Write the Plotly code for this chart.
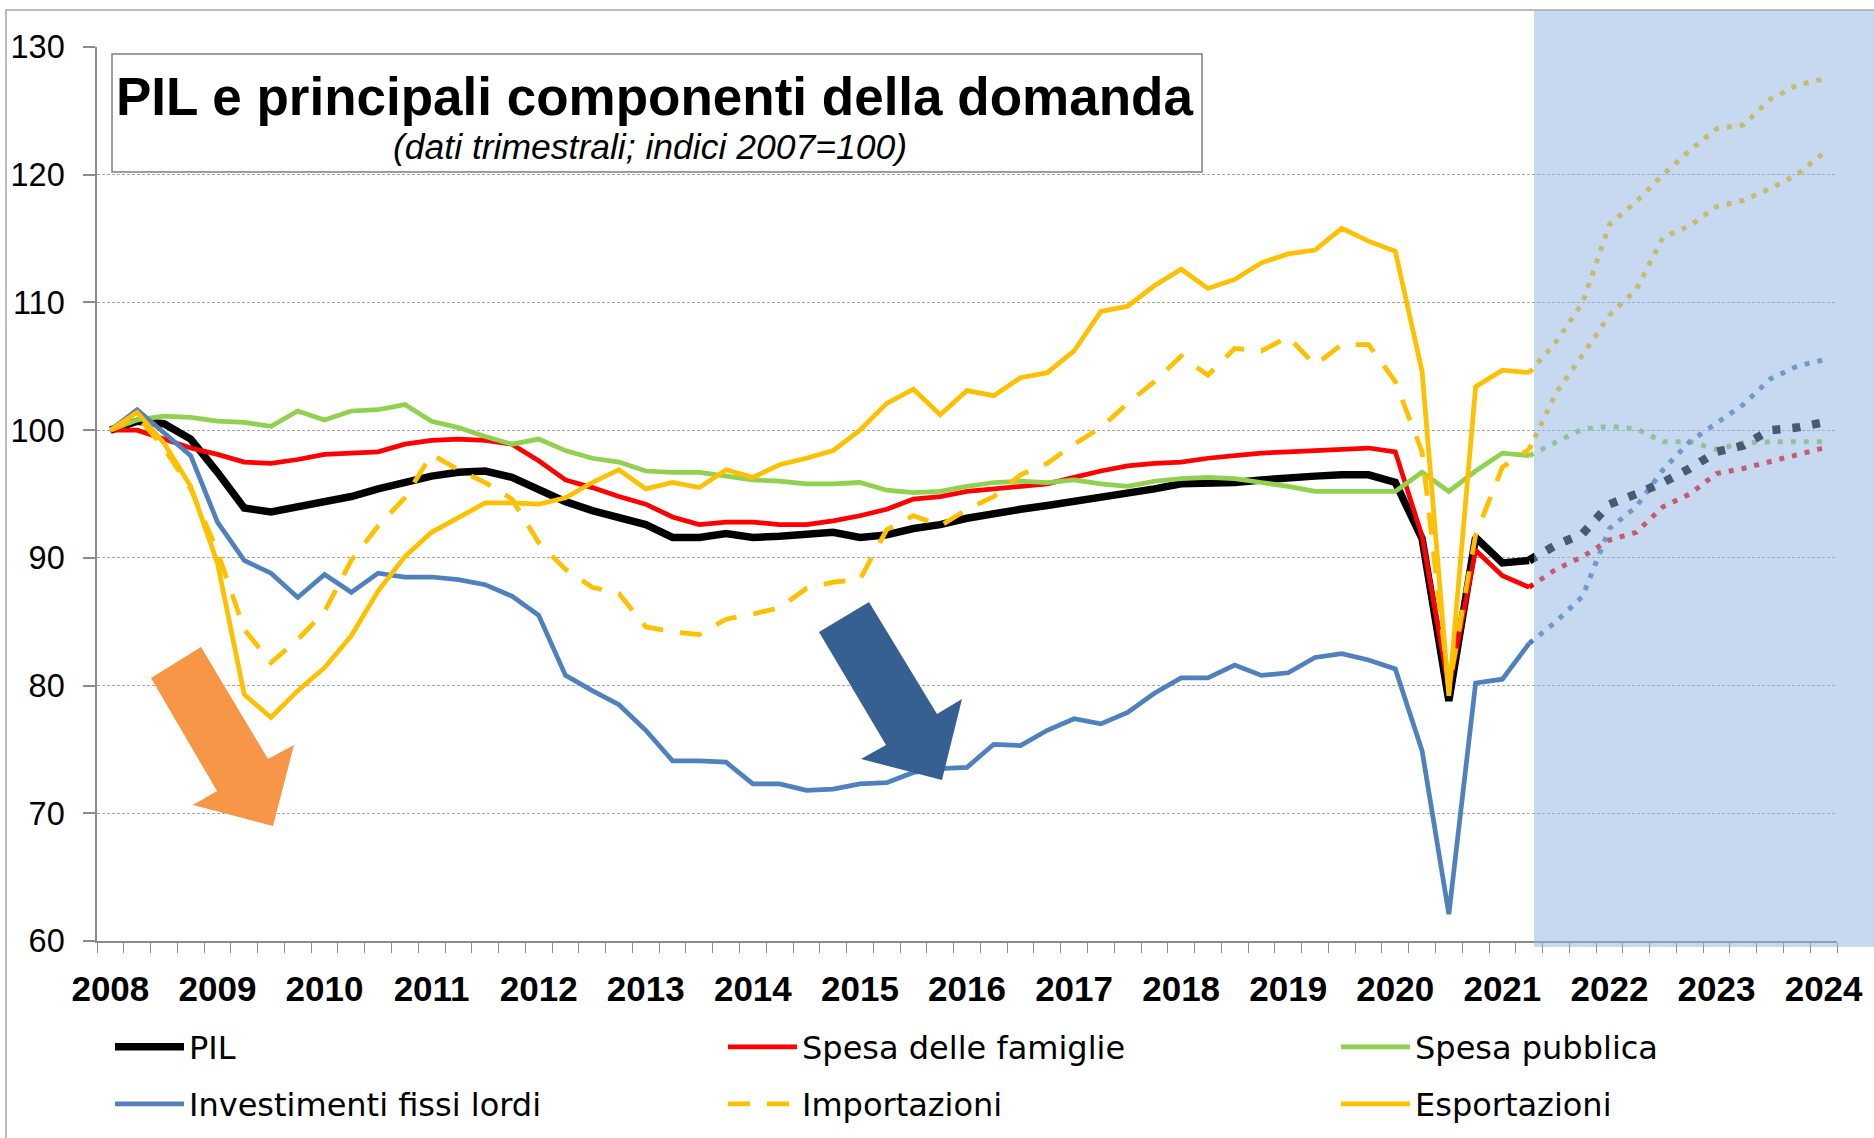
import plotly.graph_objects as go

# ---------------- data (quarterly, index 2007=100) ----------------
years = [str(y) for y in range(2008, 2025)]          # tick labels (one per year, Q1)
quarters_actual = list(range(0, 54))                  # 2008Q1 .. 2021Q2
quarters_fcst = list(range(53, 65))                   # 2021Q2 .. 2024Q1

pil = [100.0, 100.7, 100.5, 99.3, 96.7, 93.9, 93.6, 94.0, 94.4, 94.8, 95.4, 95.9, 96.4, 96.7,
       96.8, 96.3, 95.4, 94.4, 93.7, 93.2, 92.6, 91.6, 91.6, 91.9, 91.6, 91.7, 91.8, 92.0,
       91.6, 91.8, 92.3, 92.6, 93.1, 93.5, 93.8, 94.1, 94.4, 94.8, 95.1, 95.4, 95.8, 95.8,
       95.9, 96.1, 96.3, 96.4, 96.5, 96.5, 95.9, 91.5, 78.8, 91.6, 89.6, 89.8]
famiglie = [100.0, 100.0, 99.3, 98.6, 98.1, 97.5, 97.4, 97.7, 98.1, 98.2, 98.3, 98.9, 99.2, 99.3,
            99.2, 98.9, 97.6, 96.1, 95.5, 94.8, 94.2, 93.2, 92.6, 92.8, 92.8, 92.6, 92.6, 92.9,
            93.3, 93.8, 94.6, 94.8, 95.2, 95.4, 95.6, 95.8, 96.3, 96.8, 97.2, 97.4, 97.5, 97.8,
            98.0, 98.2, 98.3, 98.4, 98.5, 98.6, 98.3, 91.7, 79.8, 90.6, 88.6, 87.7]
pubblica = [100.0, 100.8, 101.1, 101.0, 100.7, 100.6, 100.3, 101.5, 100.8, 101.5, 101.6, 102.0,
            100.7, 100.2, 99.5, 98.9, 99.3, 98.4, 97.8, 97.5, 96.8, 96.7, 96.7, 96.4, 96.1, 96.0,
            95.8, 95.8, 95.9, 95.3, 95.1, 95.2, 95.6, 95.9, 96.0, 95.9, 96.1, 95.8, 95.6, 96.0,
            96.2, 96.3, 96.2, 95.9, 95.6, 95.2, 95.2, 95.2, 95.2, 96.7, 95.2, 96.8, 98.2, 98.0]
investimenti = [100.0, 101.6, 99.8, 98.0, 92.8, 89.8, 88.8, 86.9, 88.7, 87.3, 88.8, 88.5, 88.5,
                88.3, 87.9, 87.0, 85.5, 80.8, 79.6, 78.5, 76.5, 74.1, 74.1, 74.0, 72.3, 72.3, 71.8,
                71.9, 72.3, 72.4, 73.2, 73.5, 73.6, 75.4, 75.3, 76.5, 77.4, 77.0, 77.9, 79.4, 80.6,
                80.6, 81.6, 80.8, 81.0, 82.2, 82.5, 82.0, 81.3, 74.9, 62.1, 80.2, 80.5, 83.3]
importazioni = [100.0, 101.1, 98.6, 95.4, 90.5, 84.4, 81.8, 83.6, 85.8, 89.8, 92.5, 94.7, 98.1,
                96.9, 95.9, 94.6, 91.2, 89.1, 87.7, 87.2, 84.6, 84.2, 84.0, 85.2, 85.6, 86.1, 87.6,
                88.1, 88.3, 92.2, 93.3, 92.5, 93.8, 94.8, 96.5, 97.4, 98.9, 100.2, 102.1, 103.8,
                105.8, 104.3, 106.4, 106.2, 107.3, 105.1, 106.7, 106.7, 103.8, 98.3, 79.8, 91.8,
                97.1, 98.5]
esportazioni = [100.0, 101.4, 99.0, 95.6, 89.6, 79.3, 77.5, 79.6, 81.4, 83.9, 87.4, 90.1, 92.0,
                93.1, 94.3, 94.3, 94.2, 94.7, 95.9, 96.9, 95.4, 95.9, 95.5, 96.9, 96.3, 97.3, 97.8,
                98.4, 100.0, 102.1, 103.2, 101.2, 103.1, 102.7, 104.1, 104.5, 106.2, 109.3, 109.7,
                111.3, 112.6, 111.1, 111.8, 113.1, 113.8, 114.1, 115.8, 114.8, 114.0, 104.6, 79.2,
                103.4, 104.7, 104.5]

# forecasts 2021Q2 .. 2024Q1
pil_f = [89.8, 91.0, 91.9, 94.2, 95.0, 95.9, 97.0, 98.3, 98.8, 100.0, 100.2, 100.6]
famiglie_f = [87.7, 89.1, 90.1, 91.4, 92.0, 94.0, 95.0, 96.6, 97.0, 97.5, 98.0, 98.6]
pubblica_f = [98.0, 99.1, 100.1, 100.3, 100.1, 99.1, 99.1, 98.5, 99.0, 99.1, 99.1, 99.1]
investimenti_f = [83.3, 85.0, 87.0, 92.3, 94.0, 96.9, 99.1, 100.5, 102.0, 104.0, 105.0, 105.5]
importazioni_f = [98.5, 102.9, 105.9, 109.0, 111.0, 115.1, 116.0, 117.5, 118.0, 118.9, 120.0, 121.7]
esportazioni_f = [104.5, 106.9, 110.0, 116.1, 117.9, 120.0, 121.9, 123.6, 123.9, 125.9, 127.0, 127.5]

# ---------------- geometry ----------------
W, H = 1874, 1138
L, R, T, B = 97, 1837, 47, 941


def px(x):
    return (x - L) / (R - L)


def py(y):
    return (B - y) / (B - T)


BLACK, RED, GREEN, BLUE, GOLD = "#000000", "#FF0000", "#92D050", "#4F81BD", "#FFC000"
TXT = "Liberation Sans, Arial, sans-serif"
LEG = "DejaVu Sans, sans-serif"

fig = go.Figure()

# forecast (dotted) series – drawn under the translucent overlay
fc = [
    (esportazioni_f, GOLD, 5, "5px,8px"),
    (importazioni_f, GOLD, 5, "5px,8px"),
    (pubblica_f, GREEN, 5, "5px,8px"),
    (investimenti_f, BLUE, 5, "5px,8px"),
    (famiglie_f, RED, 5, "5px,8px"),
    (pil_f, BLACK, 8.5, "8px,12px"),
]
for vals, col, w, d in fc:
    fig.add_trace(go.Scatter(x=quarters_fcst, y=vals, mode="lines", showlegend=False,
                             hoverinfo="skip", line=dict(color=col, width=w, dash=d)))

# name, values, colour, width, dash, legend id, legend position (px)
series = [
    ("PIL", pil, BLACK, 7.5, "solid", "legend", (110, 1047)),
    ("Spesa delle famiglie", famiglie, RED, 4.75, "solid", "legend2", (723, 1047)),
    ("Spesa pubblica", pubblica, GREEN, 4.75, "solid", "legend3", (1336, 1047)),
    ("Investimenti fissi lordi", investimenti, BLUE, 4.75, "solid", "legend4", (110, 1104)),
    ("Importazioni", importazioni, GOLD, 4.75, "22px,17px", "legend5", (723, 1104)),
    ("Esportazioni", esportazioni, GOLD, 4.75, "solid", "legend6", (1336, 1104)),
]
for name, vals, col, w, d, lg, _ in series:
    fig.add_trace(go.Scatter(x=quarters_actual, y=vals, mode="lines", name=name, legend=lg,
                             line=dict(color=col, width=w, dash=d)))

shapes = []
# chart outer border
shapes.append(dict(type="rect", xref="paper", yref="paper", x0=px(6), x1=px(1900),
                   y0=py(1160), y1=py(10), line=dict(color="#A6A6A6", width=1.5),
                   fillcolor="rgba(0,0,0,0)", layer="below"))
# forecast shading overlay
shapes.append(dict(type="rect", xref="paper", yref="paper", x0=px(1534), x1=px(1880),
                   y0=py(947), y1=py(10), line=dict(width=0),
                   fillcolor="rgba(141,180,226,0.5)", layer="above"))
# title box
shapes.append(dict(type="rect", xref="paper", yref="paper", x0=px(112), x1=px(1202),
                   y0=py(172), y1=py(54), line=dict(color="#7F7F7F", width=1.5),
                   fillcolor="white", layer="above"))


def poly(pts):
    return "M " + " L ".join(f"{px(a):.5f},{py(b):.5f}" for a, b in pts) + " Z"


orange_arrow = [(151, 678), (201, 647), (268, 759), (294, 745), (273, 826), (193, 805), (217, 791)]
blue_arrow = [(819, 632), (869, 602), (937, 714), (962, 699), (942, 780), (861, 759), (886, 745)]
shapes.append(dict(type="path", xref="paper", yref="paper", path=poly(orange_arrow),
                   fillcolor="#F79646", line=dict(width=0), layer="above"))
shapes.append(dict(type="path", xref="paper", yref="paper", path=poly(blue_arrow),
                   fillcolor="#376092", line=dict(width=0), layer="above"))

annotations = [
    dict(text="<b>PIL e principali componenti della domanda</b>", x=px(654.5), y=py(96),
         xref="paper", yref="paper", xanchor="center", yanchor="middle", showarrow=False,
         font=dict(family=TXT, size=53, color="black")),
    dict(text="<i>(dati trimestrali; indici 2007=100)</i>", x=px(649.5), y=py(147),
         xref="paper", yref="paper", xanchor="center", yanchor="middle", showarrow=False,
         font=dict(family=TXT, size=35.5, color="black")),
]

legends = {}
for name, vals, col, w, d, lg, (lx, ly) in series:
    legends[lg] = dict(orientation="h", xanchor="left", yanchor="middle", x=px(lx), y=py(ly),
                       itemwidth=69, bgcolor="rgba(0,0,0,0)", borderwidth=0,
                       font=dict(family=LEG, size=32, color="black"))

fig.update_layout(
    width=W, height=H,
    margin=dict(l=L, r=W - R, t=T, b=H - B, pad=0, autoexpand=False),
    paper_bgcolor="white", plot_bgcolor="white",
    shapes=shapes, annotations=annotations,
    xaxis=dict(range=[-0.5, 64.5], tickmode="array", automargin=False,
               tickvals=list(range(0, 65, 4)), ticktext=[f"<b>{y}</b>" for y in years],
               ticks="", showgrid=False, zeroline=False,
               showline=True, linecolor="#8C8C8C", linewidth=1.5,
               tickfont=dict(family=TXT, size=35, color="black"),
               ticklabelstandoff=16,
               minor=dict(tickmode="linear", tick0=-0.5, dtick=1, ticks="outside",
                          ticklen=10, tickwidth=1.3, tickcolor="#8C8C8C", showgrid=False)),
    yaxis=dict(range=[60, 130], tickmode="linear", tick0=60, dtick=10, automargin=False,
               ticks="outside", ticklen=12, tickwidth=1.5, tickcolor="#8C8C8C",
               showline=True, linecolor="#8C8C8C", linewidth=1.5,
               showgrid=True, gridcolor="#A6A6A6", gridwidth=1, griddash="3px,2px",
               zeroline=False, ticklabelstandoff=12,
               tickfont=dict(family=TXT, size=32.5, color="black")),
    **legends,
)

fig.write_html("out.html", config={"displayModeBar": False},
               post_script="document.body.style.margin='0px';document.body.style.overflow='hidden';")
